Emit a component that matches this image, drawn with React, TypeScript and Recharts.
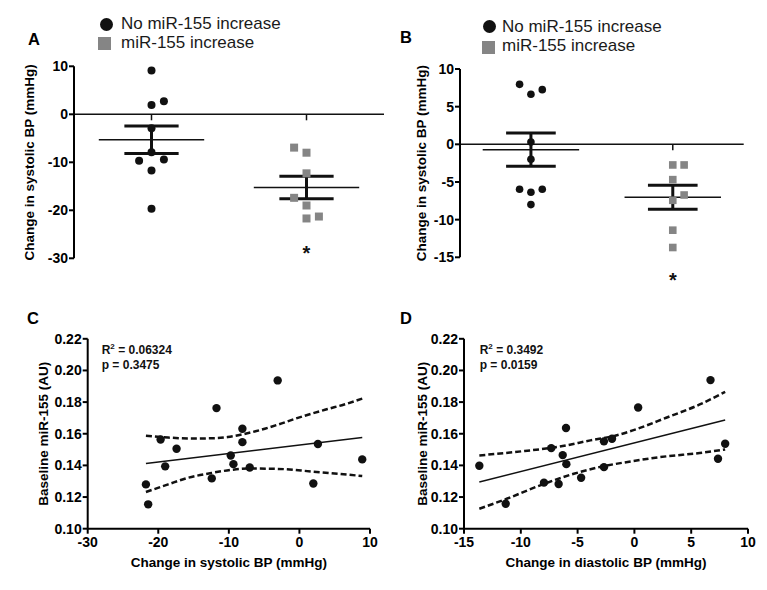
import React from "react";
import {
  ComposedChart,
  Scatter,
  Line,
  XAxis,
  YAxis,
  ReferenceLine,
  ReferenceDot,
} from "recharts";

const FONT = "'Liberation Sans', Arial, Helvetica, sans-serif";
const INK = "#111";
const GREY = "#858585";

const groupLabels = ["No miR-155 increase", "miR-155 increase"];

// A: change in systolic BP per group (col = jitter column inside the group)
const aNoIncrease = [9.1, 1.94, 2.7, -2.9, -7.9, -9.7, -9.4, -11.7, -19.7];
const aNoIncreaseCol = [0, 0, 1, 0, 0, -1, 1, 0, 0];
const aIncrease = [-6.94, -8.0, -12.3, -17.4, -19.0, -21.7, -21.3];
const aIncreaseCol = [-1, 0, 0, -1, 0, 0, 1];
const aMean = [-5.3, -15.25];
const aSem = [2.88, 2.35];
const aTicks = [-30, -20, -10, 0, 10];

// B
const bNoIncrease = [7.96, 6.64, 7.26, 0.31, -1.99, -5.97, -6.37, -5.97, -8.0];
const bNoIncreaseCol = [-1, 0, 1, 0, 0, -1, 0, 1, 0];
const bIncrease = [-2.74, -2.74, -4.69, -6.73, -7.43, -11.4, -13.7];
const bIncreaseCol = [0, 1, 0, 1, 0, 0, 0];
const bMean = [-0.71, -7.03];
const bSem = [2.21, 1.6];
const bTicks = [-15, -10, -5, 0, 5, 10];

// C: baseline miR-155 vs change in systolic BP
const cSystolic = [-21.75, -21.43, -19.67, -19.02, -17.41, -12.42, -11.75, -9.73, -9.35, -8.08, -8.08, -7.04, -3.08, 1.97, 2.62, 8.9];
const cMir155 = [0.128, 0.1154, 0.1564, 0.1394, 0.1505, 0.1318, 0.1762, 0.1463, 0.1408, 0.1632, 0.1547, 0.1387, 0.1937, 0.1286, 0.1535, 0.1438];
const cFitX = [-21.75, 8.9];
const cFitY = [0.1412, 0.1576];
const cUpperX = [-21.75, -18.6, -15.2, -12.0, -10.16, -8.08, -5.44, -3.08, -0.72, 1.63, 3.99, 6.35, 8.9];
const cUpperY = [0.1587, 0.1576, 0.157, 0.1572, 0.1579, 0.1596, 0.1625, 0.1657, 0.1693, 0.1726, 0.1756, 0.1785, 0.1822];
const cLowerX = [-21.75, -18.6, -16.24, -12.46, -9.41, -7.04, -3.08, 1.63, 8.9];
const cLowerY = [0.1232, 0.128, 0.1316, 0.1352, 0.1373, 0.138, 0.1378, 0.1362, 0.1333];

// D: baseline miR-155 vs change in diastolic BP
const dDiastolic = [-13.65, -11.33, -7.96, -7.32, -6.67, -6.31, -6.02, -5.99, -4.69, -2.68, -2.68, -1.97, 0.33, 6.7, 7.36, 7.99];
const dMir155 = [0.1398, 0.1158, 0.1291, 0.1509, 0.1282, 0.1465, 0.1636, 0.1408, 0.1322, 0.1552, 0.1389, 0.1568, 0.1766, 0.1939, 0.1442, 0.1537];
const dFitX = [-13.65, 7.99];
const dFitY = [0.1295, 0.1687];
const dUpperX = [-13.65, -9.67, -6.81, -3.87, -1.62, -0.15, 2.8, 5.75, 7.99];
const dUpperY = [0.1463, 0.1491, 0.1516, 0.1558, 0.1589, 0.1621, 0.1701, 0.1785, 0.1865];
const dLowerX = [-13.65, -11.24, -8.29, -5.34, -3.1, -0.15, 2.8, 5.75, 7.99];
const dLowerY = [0.1126, 0.1189, 0.1274, 0.1347, 0.1389, 0.1427, 0.1457, 0.1478, 0.1501];

const mirTicks = [0.1, 0.12, 0.14, 0.16, 0.18, 0.2, 0.22];

const COL_STEP = 0.08;
const zip = (xs: number[], ys: number[]) => xs.map((x, i) => ({ x, y: ys[i] }));

const tickStyle = { fill: "#000", fontSize: 14, fontWeight: 700 };
const axisStyle = { stroke: "#000", strokeWidth: 2 };
const titleStyle = { textAnchor: "middle" as const, fontSize: 13.5, fontWeight: 700, fill: "#000" };

const zeroTick = (p: any) => (
  <line x1={p.cx} y1={p.cy} x2={p.cx} y2={p.cy + 6} stroke={INK} strokeWidth={1.5} />
);
const star = (p: any) => (
  <text x={p.cx} y={p.cy + 11} textAnchor="middle" fontSize={20} fontWeight={700} fill={INK}>
    *
  </text>
);

function DotPlot(props: any) {
  const { width, height, margin, yWidth, domain, ticks, labelX, noInc, noIncCol, inc, incCol, mean, sem, starY, r } = props;
  const first = noInc.map((v: number, i: number) => ({ x: 1 + noIncCol[i] * COL_STEP, y: v }));
  const second = inc.map((v: number, i: number) => ({ x: 2 + incCol[i] * COL_STEP, y: v }));
  return (
    <ComposedChart width={width} height={height} margin={margin}>
      <XAxis type="number" dataKey="x" domain={[0.5, 2.5]} hide />
      <YAxis
        type="number"
        dataKey="y"
        domain={domain}
        ticks={ticks}
        interval={0}
        width={yWidth}
        tick={tickStyle}
        tickSize={5}
        tickMargin={1}
        axisLine={axisStyle}
        tickLine={axisStyle}
        label={{ value: "Change in systolic BP (mmHg)", angle: -90, position: "insideLeft", offset: labelX, style: titleStyle }}
      />
      <ReferenceLine y={0} stroke={INK} strokeWidth={1.5} />
      {[1, 2].map((g) => (
        <ReferenceDot key={"t" + g} x={g} y={0} ifOverflow="visible" shape={zeroTick} />
      ))}
      {mean.map((m: number, i: number) => {
        const g = i + 1;
        const s = sem[i];
        return [
          <ReferenceLine key={"v" + g} segment={[{ x: g, y: m + s }, { x: g, y: m - s }]} stroke={INK} strokeWidth={3} />,
          <ReferenceLine key={"u" + g} segment={[{ x: g - 0.175, y: m + s }, { x: g + 0.175, y: m + s }]} stroke={INK} strokeWidth={3} />,
          <ReferenceLine key={"l" + g} segment={[{ x: g - 0.175, y: m - s }, { x: g + 0.175, y: m - s }]} stroke={INK} strokeWidth={3} />,
          <ReferenceLine key={"m" + g} segment={[{ x: g - 0.34, y: m }, { x: g + 0.34, y: m }]} stroke={INK} strokeWidth={1.5} />,
        ];
      })}
      <Scatter
        name={groupLabels[0]}
        data={first}
        isAnimationActive={false}
        shape={(p: any) => <circle cx={p.cx} cy={p.cy} r={r} fill={INK} />}
      />
      <Scatter
        name={groupLabels[1]}
        data={second}
        isAnimationActive={false}
        shape={(p: any) => <rect x={p.cx - r} y={p.cy - r} width={2 * r} height={2 * r} fill={GREY} />}
      />
      <ReferenceDot x={2} y={starY} ifOverflow="visible" shape={star} />
    </ComposedChart>
  );
}

function FitPlot(props: any) {
  const { width, height, margin, yWidth, xDomain, xTicks, xLabel, labelX, pts, fit, upper, lower } = props;
  return (
    <ComposedChart width={width} height={height} margin={margin}>
      <XAxis
        type="number"
        dataKey="x"
        domain={xDomain}
        ticks={xTicks}
        interval={0}
        height={42}
        tick={tickStyle}
        tickSize={5}
        tickMargin={3}
        axisLine={axisStyle}
        tickLine={axisStyle}
        label={{ value: xLabel, position: "insideBottom", offset: 4.2, style: titleStyle }}
      />
      <YAxis
        type="number"
        dataKey="y"
        domain={[0.1, 0.22]}
        ticks={mirTicks}
        interval={0}
        width={yWidth}
        tick={tickStyle}
        tickSize={5}
        tickMargin={1}
        tickFormatter={(v: number) => v.toFixed(2)}
        axisLine={axisStyle}
        tickLine={axisStyle}
        label={{ value: "Baseline miR-155 (AU)", angle: -90, position: "insideLeft", offset: labelX, style: titleStyle }}
      />
      <Line data={upper} dataKey="y" type="monotone" stroke={INK} strokeWidth={2.5} strokeDasharray="6 3" dot={false} activeDot={false} isAnimationActive={false} />
      <Line data={lower} dataKey="y" type="monotone" stroke={INK} strokeWidth={2.5} strokeDasharray="6 3" dot={false} activeDot={false} isAnimationActive={false} />
      <Line data={fit} dataKey="y" type="linear" stroke={INK} strokeWidth={1.5} dot={false} activeDot={false} isAnimationActive={false} />
      <Scatter
        data={pts}
        isAnimationActive={false}
        shape={(p: any) => <circle cx={p.cx} cy={p.cy} r={4.2} fill={INK} />}
      />
    </ComposedChart>
  );
}

function PanelLetter({ text, left, top }: { text: string; left: number; top: number }) {
  return (
    <div style={{ position: "absolute", left, top, fontSize: 16.5, fontWeight: 700, lineHeight: "16.5px", color: "#000" }}>
      {text}
    </div>
  );
}

function GroupLegend({ circle, square, textX, rows }: any) {
  const fs = 17;
  return (
    <>
      <div style={{ position: "absolute", left: circle[0] - 6.5, top: circle[1] - 6.5, width: 13, height: 13, borderRadius: "50%", background: INK }} />
      <div style={{ position: "absolute", left: square[0] - 6.5, top: square[1] - 6.5, width: 13, height: 13, background: GREY }} />
      {groupLabels.map((t, i) => (
        <div key={t} style={{ position: "absolute", left: textX, top: rows[i] - 0.52 * fs, fontSize: fs, lineHeight: `${fs}px`, color: "#1a1a1a", whiteSpace: "nowrap" }}>
          {t}
        </div>
      ))}
    </>
  );
}

function Stats({ left, r2, p }: { left: number; r2: string; p: string }) {
  const s = { position: "absolute" as const, left, fontSize: 12, fontWeight: 700, lineHeight: "12px", color: "#111", whiteSpace: "nowrap" as const };
  return (
    <>
      <div style={{ ...s, top: 344 }}>
        R<span style={{ fontSize: 8, position: "relative", top: -5 }}>2</span> = {r2}
      </div>
      <div style={{ ...s, top: 359 }}>p = {p}</div>
    </>
  );
}

export default function App() {
  return (
    <div style={{ position: "absolute", left: 0, top: 0, width: 767, height: 590, background: "#fff", fontFamily: FONT, overflow: "hidden" }}>
      <div style={{ position: "absolute", left: 0, top: 0 }}>
        <DotPlot
          width={390}
          height={300}
          margin={{ top: 66.3, right: 6, bottom: 41.7, left: 0 }}
          yWidth={74}
          domain={[-30, 10]}
          ticks={aTicks}
          labelX={29.5}
          noInc={aNoIncrease}
          noIncCol={aNoIncreaseCol}
          inc={aIncrease}
          incCol={aIncreaseCol}
          mean={aMean}
          sem={aSem}
          starY={-28.1}
          r={4}
        />
      </div>
      <div style={{ position: "absolute", left: 384, top: 0 }}>
        <DotPlot
          width={383}
          height={300}
          margin={{ top: 69, right: 23.3, bottom: 42.7, left: 0 }}
          yWidth={76}
          domain={[-15, 10]}
          ticks={bTicks}
          labelX={37.5}
          noInc={bNoIncrease}
          noIncCol={bNoIncreaseCol}
          inc={bIncrease}
          incCol={bIncreaseCol}
          mean={bMean}
          sem={bSem}
          starY={-17.5}
          r={3.8}
        />
      </div>
      <div style={{ position: "absolute", left: 0, top: 300 }}>
        <FitPlot
          width={384}
          height={290}
          margin={{ top: 38.8, right: 14, bottom: 19.3, left: 0 }}
          yWidth={87.7}
          xDomain={[-30, 10]}
          xTicks={[-30, -20, -10, 0, 10]}
          xLabel="Change in systolic BP (mmHg)"
          labelX={43.3}
          pts={zip(cSystolic, cMir155)}
          fit={zip(cFitX, cFitY)}
          upper={zip(cUpperX, cUpperY)}
          lower={zip(cLowerX, cLowerY)}
        />
      </div>
      <div style={{ position: "absolute", left: 384, top: 300 }}>
        <FitPlot
          width={383}
          height={290}
          margin={{ top: 38.8, right: 19, bottom: 19.3, left: 0 }}
          yWidth={80}
          xDomain={[-15, 10]}
          xTicks={[-15, -10, -5, 0, 5, 10]}
          xLabel="Change in diastolic BP (mmHg)"
          labelX={38.3}
          pts={zip(dDiastolic, dMir155)}
          fit={zip(dFitX, dFitY)}
          upper={zip(dUpperX, dUpperY)}
          lower={zip(dLowerX, dLowerY)}
        />
      </div>

      <GroupLegend circle={[106, 24]} square={[104, 43.3]} textX={121} rows={[24, 43.3]} />
      <GroupLegend circle={[489, 26.7]} square={[488, 47.7]} textX={502} rows={[26.7, 46]} />

      <Stats left={101.7} r2="0.06324" p="0.3475" />
      <Stats left={479.7} r2="0.3492" p="0.0159" />

      <PanelLetter text="A" left={28} top={30.5} />
      <PanelLetter text="B" left={400} top={29} />
      <PanelLetter text="C" left={27} top={310} />
      <PanelLetter text="D" left={400} top={310} />
    </div>
  );
}
